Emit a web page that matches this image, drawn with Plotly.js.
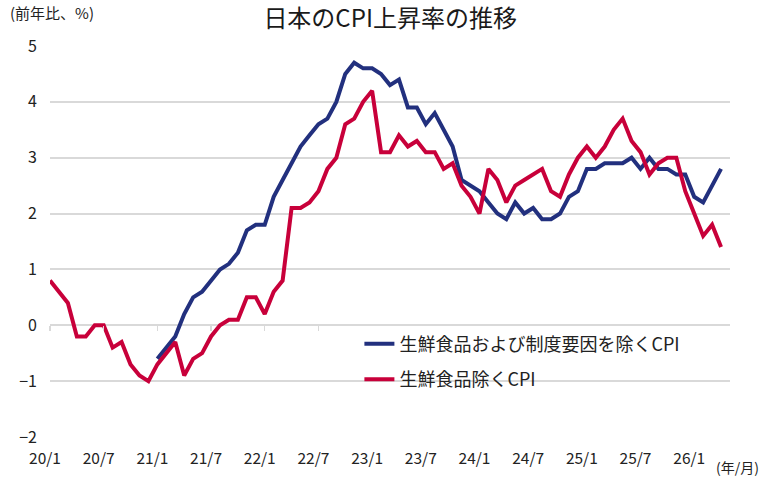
<!DOCTYPE html>
<html>
<head>
<meta charset="utf-8">
<script src="https://cdn.plot.ly/plotly-3.0.1.min.js"></script>
<style>html,body{margin:0;padding:0;background:#fff}#chart{width:765px;height:479px}</style>
</head>
<body>
<div id="chart"></div>
<script>
// Months (year/month) from 2020/1 to 2026/4
const months = [
  '20/1','20/2','20/3','20/4','20/5','20/6','20/7','20/8','20/9','20/10','20/11','20/12',
  '21/1','21/2','21/3','21/4','21/5','21/6','21/7','21/8','21/9','21/10','21/11','21/12',
  '22/1','22/2','22/3','22/4','22/5','22/6','22/7','22/8','22/9','22/10','22/11','22/12',
  '23/1','23/2','23/3','23/4','23/5','23/6','23/7','23/8','23/9','23/10','23/11','23/12',
  '24/1','24/2','24/3','24/4','24/5','24/6','24/7','24/8','24/9','24/10','24/11','24/12',
  '25/1','25/2','25/3','25/4','25/5','25/6','25/7','25/8','25/9','25/10','25/11','25/12',
  '26/1','26/2','26/3','26/4'
];

// 生鮮食品除くCPI (前年比, %)
const coreCPI = [
  0.8, 0.6, 0.4, -0.2, -0.2, 0.0, 0.0, -0.4, -0.3, -0.7, -0.9, -1.0,
  -0.7, -0.5, -0.3, -0.9, -0.6, -0.5, -0.2, 0.0, 0.1, 0.1, 0.5, 0.5,
  0.2, 0.6, 0.8, 2.1, 2.1, 2.2, 2.4, 2.8, 3.0, 3.6, 3.7, 4.0,
  4.2, 3.1, 3.1, 3.4, 3.2, 3.3, 3.1, 3.1, 2.8, 2.9, 2.5, 2.3,
  2.0, 2.8, 2.6, 2.2, 2.5, 2.6, 2.7, 2.8, 2.4, 2.3, 2.7, 3.0,
  3.2, 3.0, 3.2, 3.5, 3.7, 3.3, 3.1, 2.7, 2.9, 3.0, 3.0, 2.4,
  2.0, 1.6, 1.8, 1.4
];

// 生鮮食品および制度要因を除くCPI (前年比, %)  — starts 2021/1
const adjCPI = [
  null, null, null, null, null, null, null, null, null, null, null, null,
  -0.6, -0.4, -0.2, 0.2, 0.5, 0.6, 0.8, 1.0, 1.1, 1.3, 1.7, 1.8,
  1.8, 2.3, 2.6, 2.9, 3.2, 3.4, 3.6, 3.7, 4.0, 4.5, 4.7, 4.6,
  4.6, 4.5, 4.3, 4.4, 3.9, 3.9, 3.6, 3.8, 3.5, 3.2, 2.6, 2.5,
  2.4, 2.2, 2.0, 1.9, 2.2, 2.0, 2.1, 1.9, 1.9, 2.0, 2.3, 2.4,
  2.8, 2.8, 2.9, 2.9, 2.9, 3.0, 2.8, 3.0, 2.8, 2.8, 2.7, 2.7,
  2.3, 2.2, 2.5, 2.8
];

const tickLabels = ['20/1','20/7','21/1','21/7','22/1','22/7','23/1','23/7','24/1','24/7','25/1','25/7','26/1'];
const yTicks = [-2, -1, 0, 1, 2, 3, 4, 5];

const seriesNames = ['生鮮食品および制度要因を除くCPI', '生鮮食品除くCPI'];
const colors = ['#22307e', '#c8003a'];

const xIdx = months.map((m, i) => i);
const tickPos = tickLabels.map(l => months.indexOf(l));
// ticks on the zero line that are not hidden behind the legend box
const zeroTickPos = tickPos.slice(0, 6);

const FONT = '"Noto Sans CJK JP", "Noto Sans", sans-serif';

const traces = [
  {x: xIdx, y: adjCPI, name: seriesNames[0], type: 'scatter', mode: 'lines',
   xaxis: 'x', yaxis: 'y',
   line: {color: colors[0], width: 4}, legendgroup: 'a', connectgaps: false},
  {x: xIdx, y: coreCPI, name: seriesNames[1], type: 'scatter', mode: 'lines',
   xaxis: 'x2', yaxis: 'y',
   line: {color: colors[1], width: 4}, legendgroup: 'b'}
];

const yMin = -2, yMax = 5;
const zeroPos = (0 - yMin) / (yMax - yMin);

const layout = {
  width: 765, height: 479,
  margin: {l: 50, r: 35, t: 46, b: 42},
  paper_bgcolor: '#fff', plot_bgcolor: '#fff',
  font: {family: FONT, color: '#222', size: 16},
  showlegend: true,
  title: {text: '日本のCPI上昇率の推移', x: 0.51, xanchor: 'center', y: 0.962, yanchor: 'middle',
          font: {family: FONT, size: 24, color: '#1a1a1a'}},
  xaxis: {
    type: 'linear', range: [0, 76], anchor: 'y', side: 'bottom',
    showgrid: false, zeroline: false, showline: false, ticks: '',
    tickmode: 'array', tickvals: tickPos, ticktext: tickLabels,
    tickfont: {family: FONT, size: 15.5, color: '#222'},
    ticklabelshift: -5, ticklabelstandoff: 10
  },
  xaxis2: {
    type: 'linear', range: [0, 76], overlaying: 'x', anchor: 'free', position: zeroPos,
    showgrid: false, zeroline: false, showline: false,
    tickmode: 'array', tickvals: zeroTickPos,
    ticks: 'outside', ticklen: 5, tickwidth: 1.5, tickcolor: '#d9d9d9',
    showticklabels: false
  },
  yaxis: {
    range: [yMin, yMax], tickmode: 'array', tickvals: yTicks,
    showgrid: true, gridcolor: '#d9d9d9', gridwidth: 2,
    zeroline: false, showline: false, ticks: '',
    tickfont: {family: FONT, size: 16, color: '#222'},
    ticklabelstandoff: 12
  },
  legend: {
    x: 0.455, y: 0.285, xanchor: 'left', yanchor: 'top',
    bgcolor: 'rgba(0,0,0,0)', borderwidth: 0,
    font: {family: FONT, size: 18, color: '#222'},
    tracegroupgap: 9, itemwidth: 30
  },
  shapes: [{
    type: 'rect', xref: 'paper', yref: 'paper', layer: 'between',
    x0: 0.397, x1: 0.983, y0: 0.10, y1: 0.305,
    fillcolor: '#ffffff', line: {width: 0}
  }],
  annotations: [
    {text: '(前年比、%)', xref: 'paper', yref: 'paper', x: -0.062, y: 1.085,
     xanchor: 'left', yanchor: 'middle', showarrow: false,
     font: {family: FONT, size: 15, color: '#222'}},
    {text: '(年/月)', xref: 'paper', yref: 'paper', x: 1.045, y: -0.077,
     xanchor: 'right', yanchor: 'middle', showarrow: false,
     font: {family: FONT, size: 14, color: '#222'}}
  ]
};

Plotly.newPlot('chart', traces, layout, {displayModeBar: false, staticPlot: true});
</script>
</body>
</html>
